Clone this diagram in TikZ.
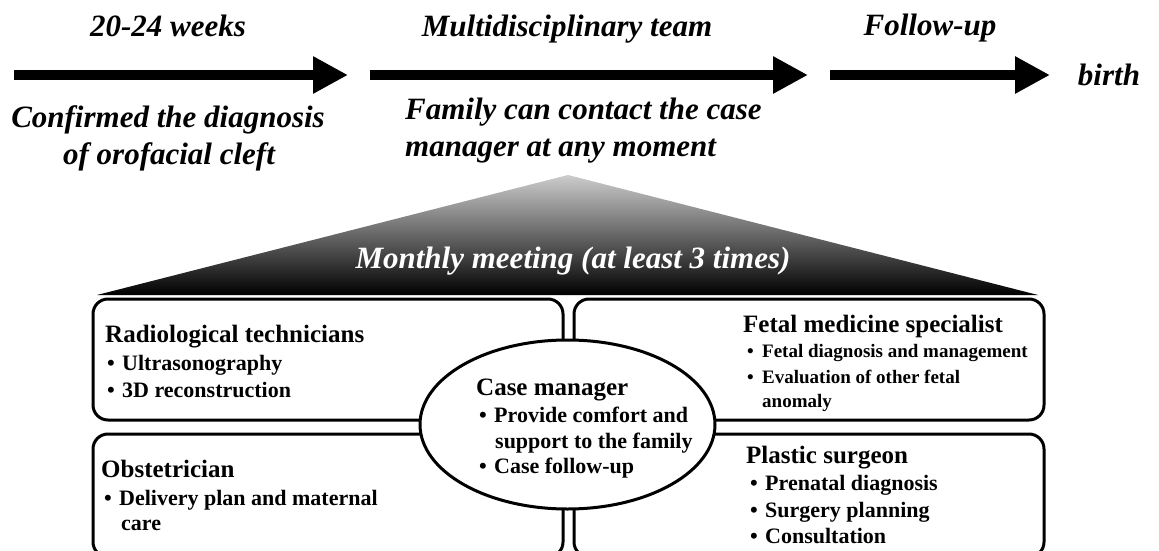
\documentclass[tikz,border=0pt]{standalone}
\usepackage{fontspec}
\setmainfont{Liberation Serif}
\usetikzlibrary{arrows.meta}
\newcommand{\itembul}{\makebox[15pt][l]{\textbullet}}
\tikzset{
	headtxt/.style={font=\fontsize{31}{37}\selectfont\bfseries\itshape, inner sep=0, anchor=base},
	meettxt/.style={font=\fontsize{31}{37}\selectfont\bfseries\itshape, text=white, inner sep=0, anchor=base},
	boxhead/.style={font=\fontsize{25}{30}\selectfont\bfseries, inner sep=0, anchor=base west},
	boxitem/.style={font=\fontsize{22}{27}\selectfont\bfseries, inner sep=0, anchor=base west},
	smallitem/.style={font=\fontsize{19}{25}\selectfont\bfseries, inner sep=0, anchor=base west},
	roundbox/.style={line width=3pt, rounded corners=15pt},
	bigarrow/.style={line width=10pt, -{Triangle[length=35pt,width=35pt]}}
}
\begin{document}
\begin{tikzpicture}[x=1pt,y=-1pt]
		\useasboundingbox (0,0) rectangle (1159,551);
		% time line
		\coordinate (a1s) at (14,75);
		\coordinate (a1e) at (348,75);
		\coordinate (a2s) at (370,75);
		\coordinate (a2e) at (808,75);
		\coordinate (a3s) at (830,75);
		\coordinate (a3e) at (1050,75);
		\draw[bigarrow] (a1s) -- (a1e);
		\draw[bigarrow] (a2s) -- (a2e);
		\draw[bigarrow] (a3s) -- (a3e);
		% above the arrows
		\node[headtxt] (wk) at (168,37) {20-24 weeks};
		\node[headtxt] (mdt) at (567,37) {Multidisciplinary team};
		\node[headtxt] (fu) at (930,36) {Follow-up};
		\node[headtxt] (birth) at (1109,85) {birth};
		% under the arrows
		\node[headtxt] (conf1) at (168,127) {Confirmed the diagnosis};
		\node[headtxt] (conf2) at (169,164) {of orofacial cleft};
		\node[headtxt, anchor=base west] (fam1) at (405,119) {Family can contact the case};
		\node[headtxt, anchor=base west] (fam2) at (405,156) {manager at any moment};
		% meeting
		\shade[top color=black!20, bottom color=black] (568,175) -- (1038,295) -- (97,295) -- cycle;
		\node[meettxt] (meet) at (573,268) {Monthly meeting (at least 3 times)};
		% boxes & ellipse
		\draw[roundbox] (93,299) rectangle (563,420);
		\draw[roundbox] (574,299) rectangle (1044,420);
		\draw[roundbox] (93,434) rectangle (563,557);
		\draw[roundbox] (574,434) rectangle (1044,557);
		\draw[line width=3pt, fill=white] (567.5,424.5) ellipse [x radius=147.5, y radius=84.5];
		% top left
		\node[boxhead] (rad) at (105,342) {Radiological technicians};
		\node[boxitem] (rad1) at (107,370) {\itembul Ultrasonography};
		\node[boxitem] (rad2) at (107,397) {\itembul 3D reconstruction};
		% bottom left
		\node[boxhead] (obs) at (101,477) {Obstetrician};
		\node[boxitem] (obs1) at (104,505) {\itembul Delivery plan and maternal};
		\node[boxitem] (obs2) at (121,530) {care};
		% centre
		\node[boxhead] (cm) at (476,395) {Case manager};
		\node[boxitem] (cm1) at (479,422) {\itembul Provide comfort and};
		\node[boxitem] (cm2) at (495,448) {support to the family};
		\node[boxitem] (cm3) at (479,473) {\itembul Case follow-up};
		% top right
		\node[boxhead] (fet) at (743,332) {Fetal medicine specialist};
		\node[smallitem] (fet1) at (747,357) {\itembul Fetal diagnosis and management};
		\node[smallitem] (fet2) at (747,383) {\itembul Evaluation of other fetal};
		\node[smallitem] (fet3) at (762,407) {anomaly};
		% bottom right
		\node[boxhead] (pla) at (746,463) {Plastic surgeon};
		\node[boxitem] (pla1) at (750,490) {\itembul Prenatal diagnosis};
		\node[boxitem] (pla2) at (750,517) {\itembul Surgery planning};
		\node[boxitem] (pla3) at (750,543) {\itembul Consultation};
\end{tikzpicture}
\end{document}
